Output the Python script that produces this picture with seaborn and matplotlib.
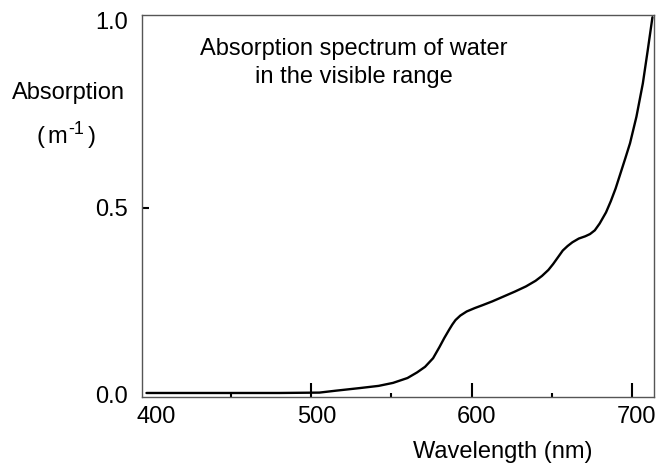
import numpy as np
import pandas as pd
import matplotlib
matplotlib.use("Agg")
import matplotlib.pyplot as plt
import matplotlib.transforms as mtransforms
import seaborn as sns

# Absorption spectrum of water
wavelength = [397, 420, 450, 480, 505, 515, 530, 542, 551, 560, 566, 571, 576,
              580, 583, 586, 588, 590, 593, 597, 602, 607, 613, 620, 627, 634,
              640, 644, 648, 651, 654, 657, 660, 663, 667, 671, 674, 677, 680,
              684, 687, 690, 693, 696, 699, 703, 707, 710, 713]
absorption = [0.005, 0.005, 0.005, 0.005, 0.006, 0.011, 0.018, 0.024, 0.032,
              0.045, 0.060, 0.075, 0.098, 0.128, 0.152, 0.174, 0.188, 0.200,
              0.212, 0.223, 0.232, 0.240, 0.250, 0.263, 0.276, 0.290, 0.305,
              0.318, 0.334, 0.350, 0.368, 0.386, 0.398, 0.408, 0.418, 0.424,
              0.430, 0.440, 0.458, 0.488, 0.518, 0.552, 0.592, 0.632, 0.673,
              0.744, 0.833, 0.920, 1.010]

x_ticks = [400, 500, 600, 700]
x_minor = [450, 550, 650]
y_ticks = [0.0, 0.5, 1.0]
y_ticklabels = ["0.0", "0.5", "1.0"]

df = pd.DataFrame({"Wavelength": wavelength, "Absorption": absorption})

sns.set_style("white")
plt.rcParams["font.family"] = ["Liberation Sans", "DejaVu Sans"]
plt.rcParams["text.color"] = "black"

fig = plt.figure(figsize=(6.62, 4.67), dpi=100)
ax = fig.add_axes([0.214, 0.1505, 0.774, 0.8175])

sns.lineplot(data=df, x="Wavelength", y="Absorption", color="black",
             linewidth=1.7, ax=ax)

ax.set_xlim(394, 714)
ax.set_ylim(-0.005, 1.016)

ax.set_xticks(x_ticks)
ax.set_xticks(x_minor, minor=True)
ax.set_yticks(y_ticks)
ax.set_yticklabels(y_ticklabels)

ax.tick_params(axis="x", which="major", direction="in", length=10, width=1.5,
               color="black", labelsize=17, labelcolor="black", pad=7,
               bottom=True)
ax.tick_params(axis="x", which="minor", direction="in", length=3, width=1.5,
               color="black", bottom=True)
ax.tick_params(axis="y", which="major", direction="in", length=5, width=1.5,
               color="black", labelsize=17, labelcolor="black", pad=10,
               left=True)
ax.xaxis.get_major_ticks()[0].tick1line.set_visible(False)
ax.yaxis.get_major_ticks()[0].tick1line.set_visible(False)
ax.yaxis.get_major_ticks()[-1].tick1line.set_visible(False)

offset = mtransforms.ScaledTranslation(5 / 100, 0, fig.dpi_scale_trans)
for lab in ax.get_xticklabels():
    lab.set_transform(lab.get_transform() + offset)

for s in ax.spines.values():
    s.set_color("#555555")
    s.set_linewidth(1.0)

ax.set_xlabel("")
ax.set_ylabel("")

# y axis label, written piece by piece like the reference
fig.text(68 / 662, 1 - 93 / 467, "Absorption", ha="center", va="center",
         fontsize=17, color="black")
fig.text(36 / 662, 1 - 143 / 467, "(", ha="left", va="baseline",
         fontsize=17, color="black")
fig.text(47 / 662, 1 - 143 / 467, "m", ha="left", va="baseline",
         fontsize=17, color="black")
fig.text(68 / 662, 1 - 134 / 467, "-1", ha="left", va="baseline",
         fontsize=13, color="black")
fig.text(88 / 662, 1 - 143 / 467, ")", ha="left", va="baseline",
         fontsize=17, color="black")

fig.text(503 / 662, 1 - 452 / 467, "Wavelength (nm)", ha="center",
         va="center", fontsize=17, color="black")
fig.text(354 / 662, 1 - 63 / 467,
         "Absorption spectrum of water\nin the visible range",
         ha="center", va="center", fontsize=17, linespacing=1.3,
         color="black")

fig.savefig("out.png", dpi=100)
